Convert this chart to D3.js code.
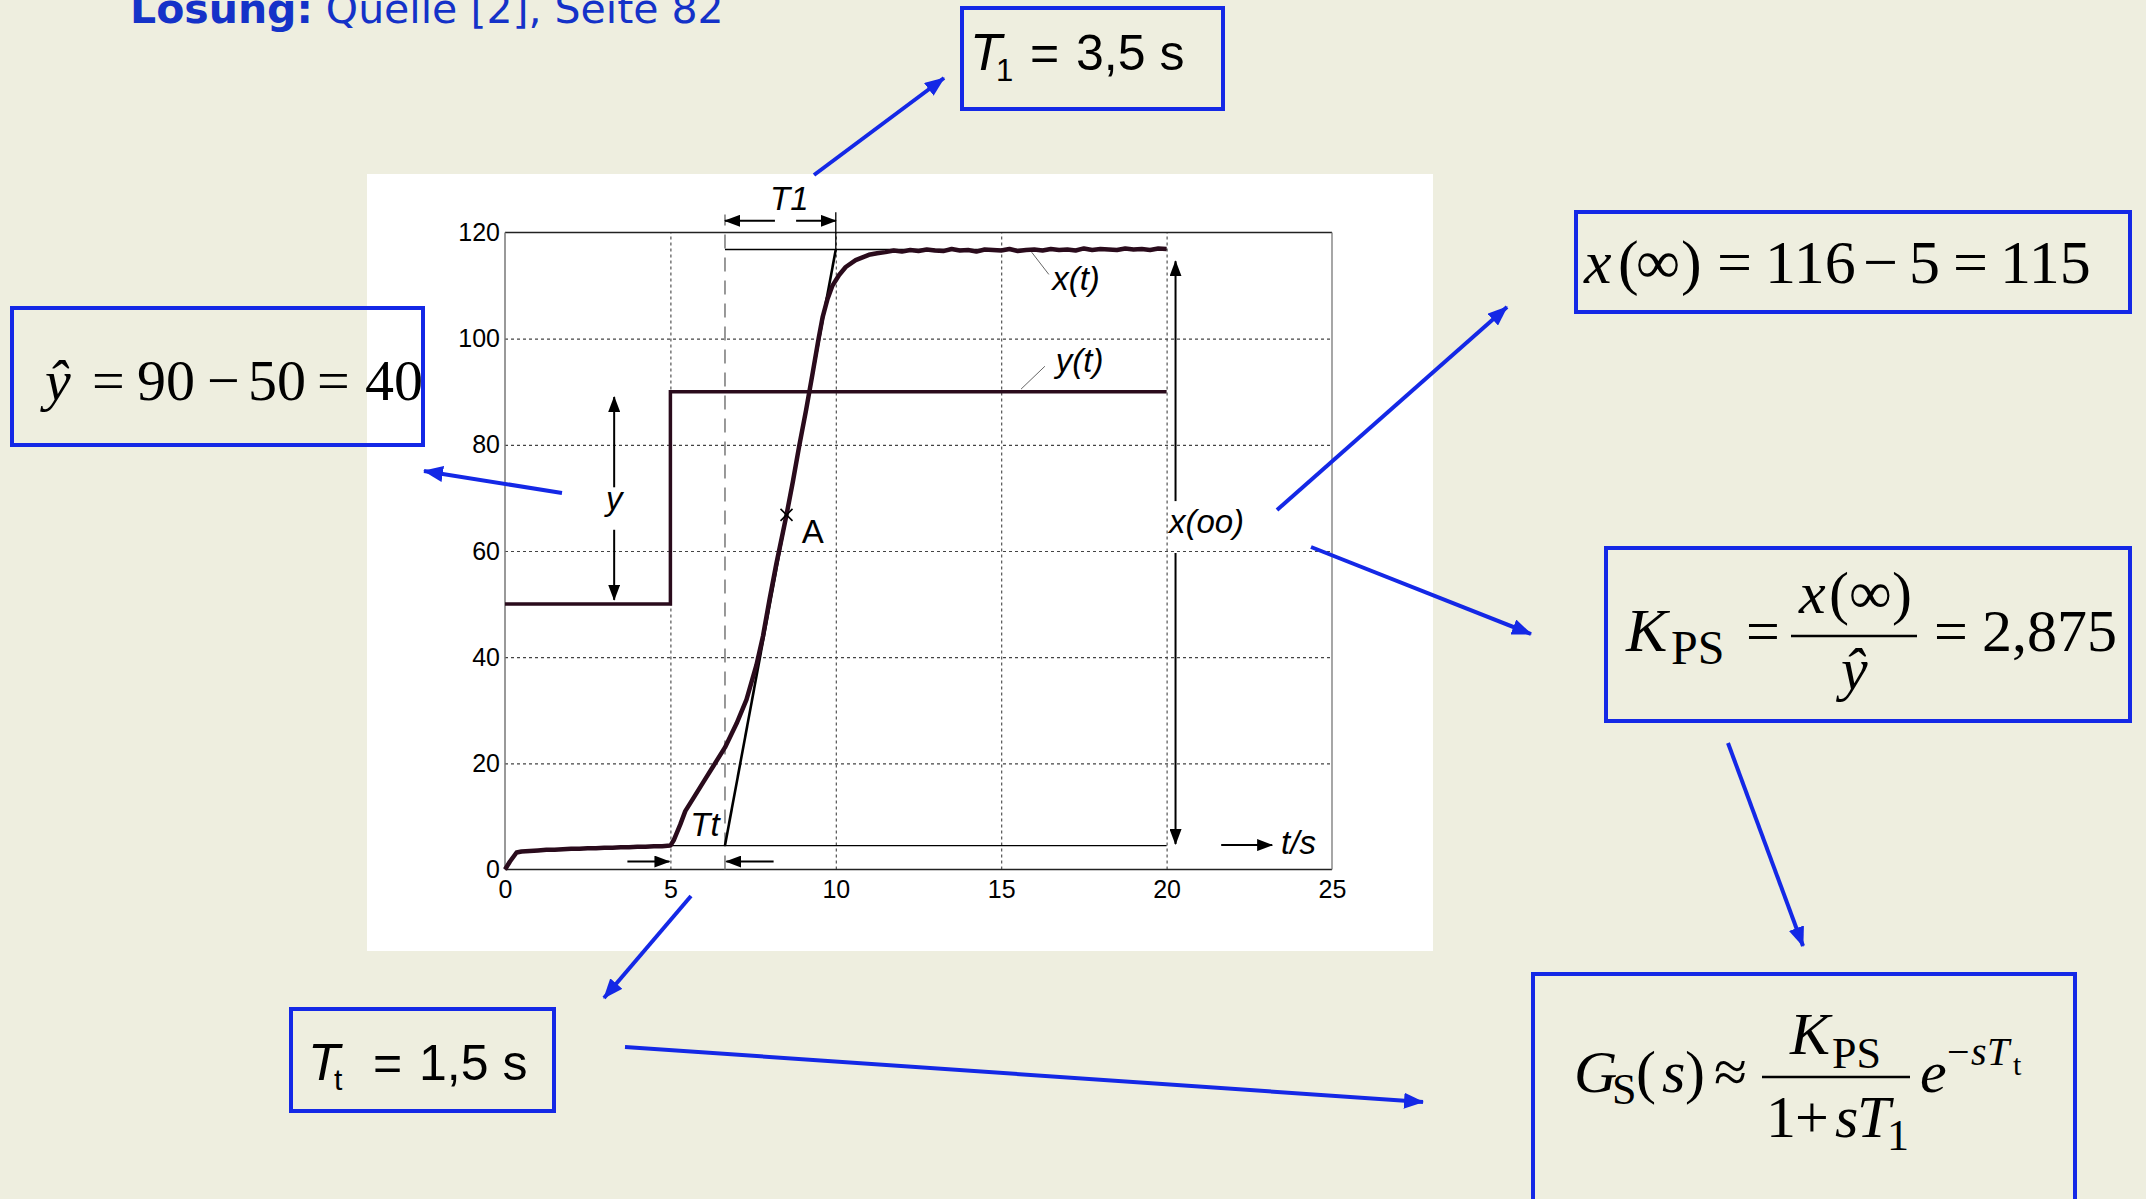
<!DOCTYPE html>
<html lang="de">
<head>
<meta charset="UTF-8">
<title>Sprungantwort - Auswertung</title>
<script src="https://d3js.org/d3.v7.min.js"></script>
<style>
  body { margin: 0; background: #eeeedf; }
  svg { display: block; }
  .tick text { font-family: "Liberation Sans", Arial, sans-serif; font-size: 25px; fill: #000; }
  .lbl { font-family: "Liberation Sans", Arial, sans-serif; font-size: 33px; fill: #000; }
  .math { font-family: "Liberation Serif", "Times New Roman", serif; fill: #000; }
  .sans { font-family: "Liberation Sans", Arial, sans-serif; fill: #000; }
  text { white-space: pre; }
</style>
</head>
<body>
<script>
// x(t): step response
const xTime = [0, 0.15, 0.35, 0.5, 0.75, 1, 1.25, 1.5, 1.75, 2, 2.25, 2.5, 2.75, 3, 3.25, 3.5, 3.75, 4, 4.25, 4.5, 4.75, 5,
  5.1, 5.3, 5.45, 5.7, 6.0, 6.3, 6.65, 7.0, 7.3, 7.6, 7.8, 8.0, 8.2, 8.4, 8.51, 8.7, 8.9, 9.1, 9.3, 9.48, 9.6, 9.75, 9.9,
  10.1, 10.3, 10.6, 11.0, 11.25,
  11.5, 11.75, 12, 12.25, 12.5, 12.75, 13, 13.25, 13.5, 13.75, 14, 14.25, 14.5, 14.75, 15, 15.25, 15.5, 15.75,
  16, 16.25, 16.5, 16.75, 17, 17.25, 17.5, 17.75, 18, 18.25, 18.5, 18.75, 19, 19.25, 19.5, 19.75, 20];
const xValue = [0, 1.5, 3.2, 3.4, 3.5, 3.6, 3.7, 3.7, 3.8, 3.9, 3.9, 4.0, 4.0, 4.1, 4.1, 4.2, 4.2, 4.3, 4.3, 4.4, 4.4, 4.5,
  5.5, 8.5, 11, 13.5, 16.5, 19.5, 23, 27.5, 32, 38.5, 44, 51, 57.5, 63.5, 66.8, 73, 80, 86.5, 93.5, 100, 104, 107.5, 110,
  112, 113.5, 114.8, 115.8, 116.1,
  116.3, 116.6, 116.4, 116.7, 116.5, 116.8, 116.6, 116.5, 116.9, 116.6, 116.7, 116.4, 116.8, 116.7, 116.6, 116.9, 116.5, 116.7,
  116.8, 116.6, 116.9, 116.7, 116.8, 116.6, 117.0, 116.7, 116.9, 116.8, 116.7, 117.0, 116.8, 116.9, 116.7, 117.0, 116.9];

// y(t): input step 50 -> 90 at t = 5 s
const yTime = [0, 5, 5, 20];
const yValue = [50, 50, 90, 90];

const xTicks = [0, 5, 10, 15, 20, 25];
const yTicks = [0, 20, 40, 60, 80, 100, 120];
const xGrid = [5, 10, 15, 20];
const yGrid = [20, 40, 60, 80, 100];

// evaluation values (tangent in A)
const tStep = 5, tTangent = 6.65, tT1 = 10, tEnd = 20;
const xLow = 4.5, xHigh = 116.8;
const pointA = [8.51, 66.8];

const W = 2146, H = 1199;
const blue = "#1428e6";
const ink = "#2a0b1c";

let svg = d3.select("body").append("svg")
  .attr("width", W).attr("height", H)
  .attr("viewBox", `0 0 ${W} ${H}`);

let defs = svg.append("defs");
defs.append("marker").attr("id", "ahBlue")
  .attr("markerUnits", "userSpaceOnUse")
  .attr("viewBox", "0 0 20 16").attr("refX", 19).attr("refY", 8)
  .attr("markerWidth", 20).attr("markerHeight", 16).attr("orient", "auto")
  .append("path").attr("d", "M0,0 L20,8 L0,16 Z").attr("fill", blue);
defs.append("marker").attr("id", "ahBlack")
  .attr("markerUnits", "userSpaceOnUse")
  .attr("viewBox", "0 0 16 12").attr("refX", 15).attr("refY", 6)
  .attr("markerWidth", 16).attr("markerHeight", 12).attr("orient", "auto")
  .append("path").attr("d", "M0,0 L16,6 L0,12 Z").attr("fill", "#000");

// title (cut at the top edge, as on the slide)
let title = svg.append("text").attr("x", 130).attr("y", 23)
  .attr("font-family", "'DejaVu Sans', Verdana, sans-serif").attr("font-size", 41).attr("fill", "#1432c8");
title.append("tspan").attr("font-weight", "bold").text("Lösung:");
title.append("tspan").text(" Quelle [2], Seite 82");

// white figure panel
svg.append("rect").attr("x", 367).attr("y", 174).attr("width", 1066).attr("height", 777).attr("fill", "#fff");

const x = d3.scaleLinear().domain([0, 25]).range([505, 1332]);
const y = d3.scaleLinear().domain([0, 120]).range([869.5, 232.5]);

let gChart = svg.append("g");

// grid
gChart.append("g").attr("transform", `translate(0,${y(0)})`)
  .call(d3.axisBottom(x).tickValues(xGrid).tickSize(-(y(0) - y(120))).tickFormat(""))
  .call(g => g.select(".domain").remove())
  .selectAll("line").attr("stroke", "#444").attr("stroke-width", 1.1).attr("stroke-dasharray", "3,3");
gChart.append("g").attr("transform", `translate(${x(0)},0)`)
  .call(d3.axisLeft(y).tickValues(yGrid).tickSize(-(x(25) - x(0))).tickFormat(""))
  .call(g => g.select(".domain").remove())
  .selectAll("line").attr("stroke", "#444").attr("stroke-width", 1.1).attr("stroke-dasharray", "3,3");

// frame
gChart.append("line").attr("x1", x(0)).attr("x2", x(25)).attr("y1", y(120)).attr("y2", y(120)).attr("stroke", "#222").attr("stroke-width", 1.3);
gChart.append("line").attr("x1", x(0)).attr("x2", x(25)).attr("y1", y(0)).attr("y2", y(0)).attr("stroke", "#222").attr("stroke-width", 1.5);
gChart.append("line").attr("x1", x(0)).attr("x2", x(0)).attr("y1", y(0)).attr("y2", y(120)).attr("stroke", "#777").attr("stroke-width", 1.5);
gChart.append("line").attr("x1", x(25)).attr("x2", x(25)).attr("y1", y(0)).attr("y2", y(120)).attr("stroke", "#777").attr("stroke-width", 1.3);

// tick labels
gChart.append("g").attr("transform", `translate(0,${y(0)})`)
  .call(d3.axisBottom(x).tickValues(xTicks).tickSize(0).tickPadding(11))
  .call(g => g.select(".domain").remove());
gChart.append("g").attr("transform", `translate(${x(0)},0)`)
  .call(d3.axisLeft(y).tickValues(yTicks).tickSize(0).tickPadding(5))
  .call(g => g.select(".domain").remove());

// helper lines of the tangent construction
function seg(t1, v1, t2, v2, stroke, width, dash) {
  return gChart.append("line")
    .attr("x1", x(t1)).attr("y1", y(v1)).attr("x2", x(t2)).attr("y2", y(v2))
    .attr("stroke", stroke).attr("stroke-width", width)
    .attr("stroke-dasharray", dash || null);
}
seg(tTangent, 0, tTangent, 123.4, "#777", 1.5, "14,9");
seg(tTangent, xHigh, tEnd, xHigh, "#000", 1.3);
seg(tStep, xLow, tEnd, xLow, "#000", 1.3);
seg(tT1, xHigh, tT1, 123.8, "#000", 1.3);
seg(tTangent, xLow, tT1, xHigh, "#000", 2.6);

// curves
const line = d3.line().x(d => x(d[0])).y(d => y(d[1]));
gChart.append("path").datum(yTime.map((t, i) => [t, yValue[i]]))
  .attr("d", line).attr("fill", "none").attr("stroke", ink).attr("stroke-width", 3.5);
gChart.append("path").datum(xTime.map((t, i) => [t, xValue[i]]))
  .attr("d", line).attr("fill", "none").attr("stroke", ink).attr("stroke-width", 4.5)
  .attr("stroke-linejoin", "round");

// black dimension arrows
function arrow(t1, v1, t2, v2) {
  seg(t1, v1, t2, v2, "#000", 2).attr("marker-end", "url(#ahBlack)");
}
arrow(8.16, 122.2, tTangent, 122.2);
arrow(8.80, 122.2, tT1, 122.2);
arrow(3.7, 1.5, 4.97, 1.5);
arrow(8.12, 1.5, 6.69, 1.5);
arrow(3.3, 72, 3.3, 89);
arrow(3.3, 64, 3.3, 50.8);
arrow(20.27, 69.4, 20.27, 114.6);
arrow(20.27, 59.6, 20.27, 4.8);
arrow(21.65, 4.6, 23.19, 4.6);

// point A
gChart.append("path")
  .attr("d", `M${x(pointA[0]) - 6},${y(pointA[1]) - 6}L${x(pointA[0]) + 6},${y(pointA[1]) + 6}M${x(pointA[0]) - 6},${y(pointA[1]) + 6}L${x(pointA[0]) + 6},${y(pointA[1]) - 6}`)
  .attr("stroke", "#000").attr("stroke-width", 1.6);

// leader lines
seg(15.92, 116.3, 16.44, 112.1, "#666", 1);
seg(15.6, 90.5, 16.32, 94.8, "#666", 1);

// labels inside the plot
function label(t, v, txt, italic, anchor) {
  gChart.append("text").attr("class", "lbl")
    .attr("x", x(t)).attr("y", y(v))
    .attr("font-style", italic ? "italic" : "normal")
    .attr("text-anchor", anchor || "start")
    .text(txt);
}
label(8.01, 124.2, "T1", true);
label(5.6, 6.3, "Tt", true);
label(3.3, 67.8, "y", true, "middle");
label(8.97, 61.5, "A", false);
label(16.54, 109.2, "x(t)", true);
label(16.65, 93.8, "y(t)", true);
label(20.07, 63.3, "x(oo)", true);
label(23.46, 2.9, "t/s", true);

// blue boxes
function box(x0, y0, x1, y1) {
  svg.append("rect").attr("x", x0).attr("y", y0).attr("width", x1 - x0).attr("height", y1 - y0)
    .attr("fill", "none").attr("stroke", blue).attr("stroke-width", 4);
}
box(962, 8, 1223, 109);
box(12, 308, 423, 445);
box(1576, 212, 2130, 312);
box(1606, 548, 2130, 721);
box(1533, 974, 2075, 1215);
box(291, 1009, 554, 1111);

// blue arrows
const blueArrows = [
  [814, 175, 944, 78],
  [562, 493, 424, 471],
  [1277, 510, 1507, 307],
  [1311, 547, 1531, 634],
  [1728, 743, 1803, 946],
  [691, 896, 604, 998],
  [625, 1047, 1423, 1102]
];
blueArrows.forEach(a => {
  svg.append("line").attr("x1", a[0]).attr("y1", a[1]).attr("x2", a[2]).attr("y2", a[3])
    .attr("stroke", blue).attr("stroke-width", 4).attr("marker-end", "url(#ahBlue)");
});

// formulas: [text, x, y, size, italic]
function formula(cls, parts) {
  let t = svg.append("text").attr("class", cls);
  parts.forEach(p => {
    t.append("tspan").attr("x", p[1]).attr("y", p[2]).attr("font-size", p[3])
      .attr("font-style", p[4] ? "italic" : "normal").text(p[0]);
  });
}
function bar(x0, x1, yy) {
  svg.append("line").attr("x1", x0).attr("x2", x1).attr("y1", yy).attr("y2", yy)
    .attr("stroke", "#000").attr("stroke-width", 2.5);
}

formula("sans", [["T", 970, 70, 52, 1], ["1", 996, 81, 31], ["=", 1030, 70, 50], ["3,5 s", 1076, 70, 50]]);
formula("sans", [["T", 308, 1080, 52, 1], ["t", 334, 1090, 30], ["=", 373, 1080, 50], ["1,5 s", 419, 1080, 50]]);

formula("math", [["ŷ", 45, 400, 58, 1], ["=", 92, 400, 58], ["90", 137, 400, 58], ["\u2212", 207, 400, 58],
  ["50", 248, 400, 58], ["=", 317, 400, 58], ["40", 365, 400, 58]]);

formula("math", [["x", 1584, 283, 62, 1], ["(", 1618, 283, 62], ["\u221E", 1636, 283, 62], [")", 1681, 283, 62],
  ["=", 1717, 283, 62], ["116", 1765, 283, 62], ["\u2212", 1863, 283, 62], ["5", 1909, 283, 62],
  ["=", 1953, 283, 62], ["115", 2000, 283, 62]]);

formula("math", [["K", 1626, 651, 62, 1], ["PS", 1671, 664, 48], ["=", 1746, 651, 60],
  ["x", 1799, 613, 60, 1], ["(", 1829, 613, 60], ["\u221E", 1849, 613, 60], [")", 1892, 613, 60],
  ["ŷ", 1841, 689, 60, 1], ["=", 1934, 651, 60], ["2,875", 1982, 651, 60]]);
bar(1791, 1917, 636);

formula("math", [["G", 1574, 1092, 60, 1], ["S", 1612, 1104, 44], ["(", 1636, 1092, 60], ["s", 1662, 1092, 60, 1],
  [")", 1685, 1092, 60], ["\u2248", 1714, 1092, 60],
  ["K", 1790, 1054, 60, 1], ["PS", 1832, 1068, 44],
  ["1", 1766, 1137, 60], ["+", 1795, 1137, 60], ["s", 1835, 1137, 60, 1], ["T", 1857, 1137, 60, 1], ["1", 1887, 1150, 44],
  ["e", 1920, 1092, 60, 1], ["\u2212", 1947, 1065, 40], ["s", 1971, 1065, 40, 1], ["T", 1987, 1065, 40, 1], ["t", 2013, 1075, 30]]);
bar(1762, 1910, 1077);
</script>
</body>
</html>
